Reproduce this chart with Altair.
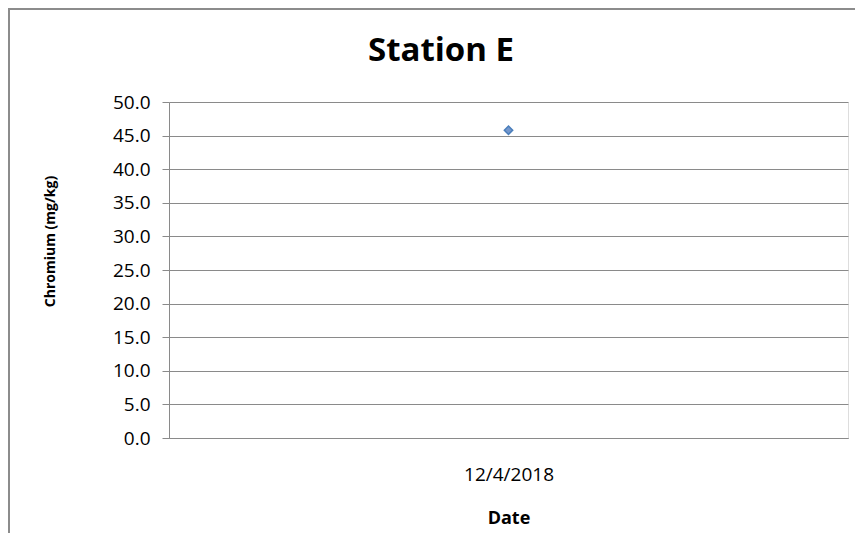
import altair as alt
import pandas as pd

# Data
dates = ["12/4/2018"]
chromium = [45.8]
y_ticks = [0, 5, 10, 15, 20, 25, 30, 35, 40, 45, 50]
chart_title = ["Station E"]

df = pd.DataFrame({"Date": dates, "Chromium": chromium})

FONT = "Open Sans"
GRID = "#8a8a8a"
W, H = 679, 336
PL, PT, PR, PB = 161, 94, 7, 95

points = alt.Chart(df).mark_point(
    shape="diamond", filled=True, size=70,
    fill="#7497cc", stroke="#4a7ebb", strokeWidth=1.5, opacity=1
).encode(
    x=alt.X("Date:N", title="Date",
            axis=alt.Axis(labelAngle=0, ticks=False, tickSize=0, labelPadding=36,
                          labelBaseline="middle", labelFont=FONT, labelFontSize=19,
                          labelColor="#000000", domainColor=GRID, domainWidth=1,
                          titleFont=FONT, titleFontSize=18, titleFontWeight="bold",
                          titleColor="#000000", titleBaseline="middle", titleY=80,
                          grid=False)),
    y=alt.Y("Chromium:Q", title="Chromium (mg/kg)",
            scale=alt.Scale(domain=[0, 50], nice=False),
            axis=alt.Axis(values=y_ticks, format=".1f", tickSize=7, tickColor=GRID,
                          labelPadding=12, labelFont=FONT, labelFontSize=19,
                          labelColor="#000000", domainColor=GRID, domainWidth=1,
                          gridColor=GRID, gridWidth=1, grid=True,
                          titleFont=FONT, titleFontSize=14, titleFontWeight="bold",
                          titleColor="#000000", titleAngle=-90, titleAlign="center",
                          titleBaseline="middle", titleX=-119, titleY=139)),
)

title_df = pd.DataFrame({"t": chart_title})
title_text = alt.Chart(title_df).mark_text(
    font=FONT, fontSize=33, fontWeight="bold", color="#000000",
    align="center", baseline="alphabetic"
).encode(text="t:N", x=alt.value(441 - 8 - PL), y=alt.value(61 - 8 - PT))

frame_df = pd.DataFrame({"a": [0]})
left_border = alt.Chart(frame_df).mark_rule(color="#8c8c8c", strokeWidth=2).encode(
    x=alt.value(-PL + 1), x2=alt.value(-PL + 1),
    y=alt.value(-PT), y2=alt.value(H + PB)
)
top_border = alt.Chart(frame_df).mark_rule(color="#8c8c8c", strokeWidth=2).encode(
    x=alt.value(-PL), x2=alt.value(W + PR),
    y=alt.value(-PT + 1), y2=alt.value(-PT + 1)
)

chart = alt.layer(points, title_text, left_border, top_border).properties(
    width=W, height=H,
    autosize=alt.AutoSizeParams(type="none"),
    padding={"left": PL, "top": PT, "right": PR, "bottom": PB},
).configure_view(strokeWidth=0, stroke=None).configure(background="white")

chart.save("out.html", embed_options={"renderer": "svg", "actions": False})
